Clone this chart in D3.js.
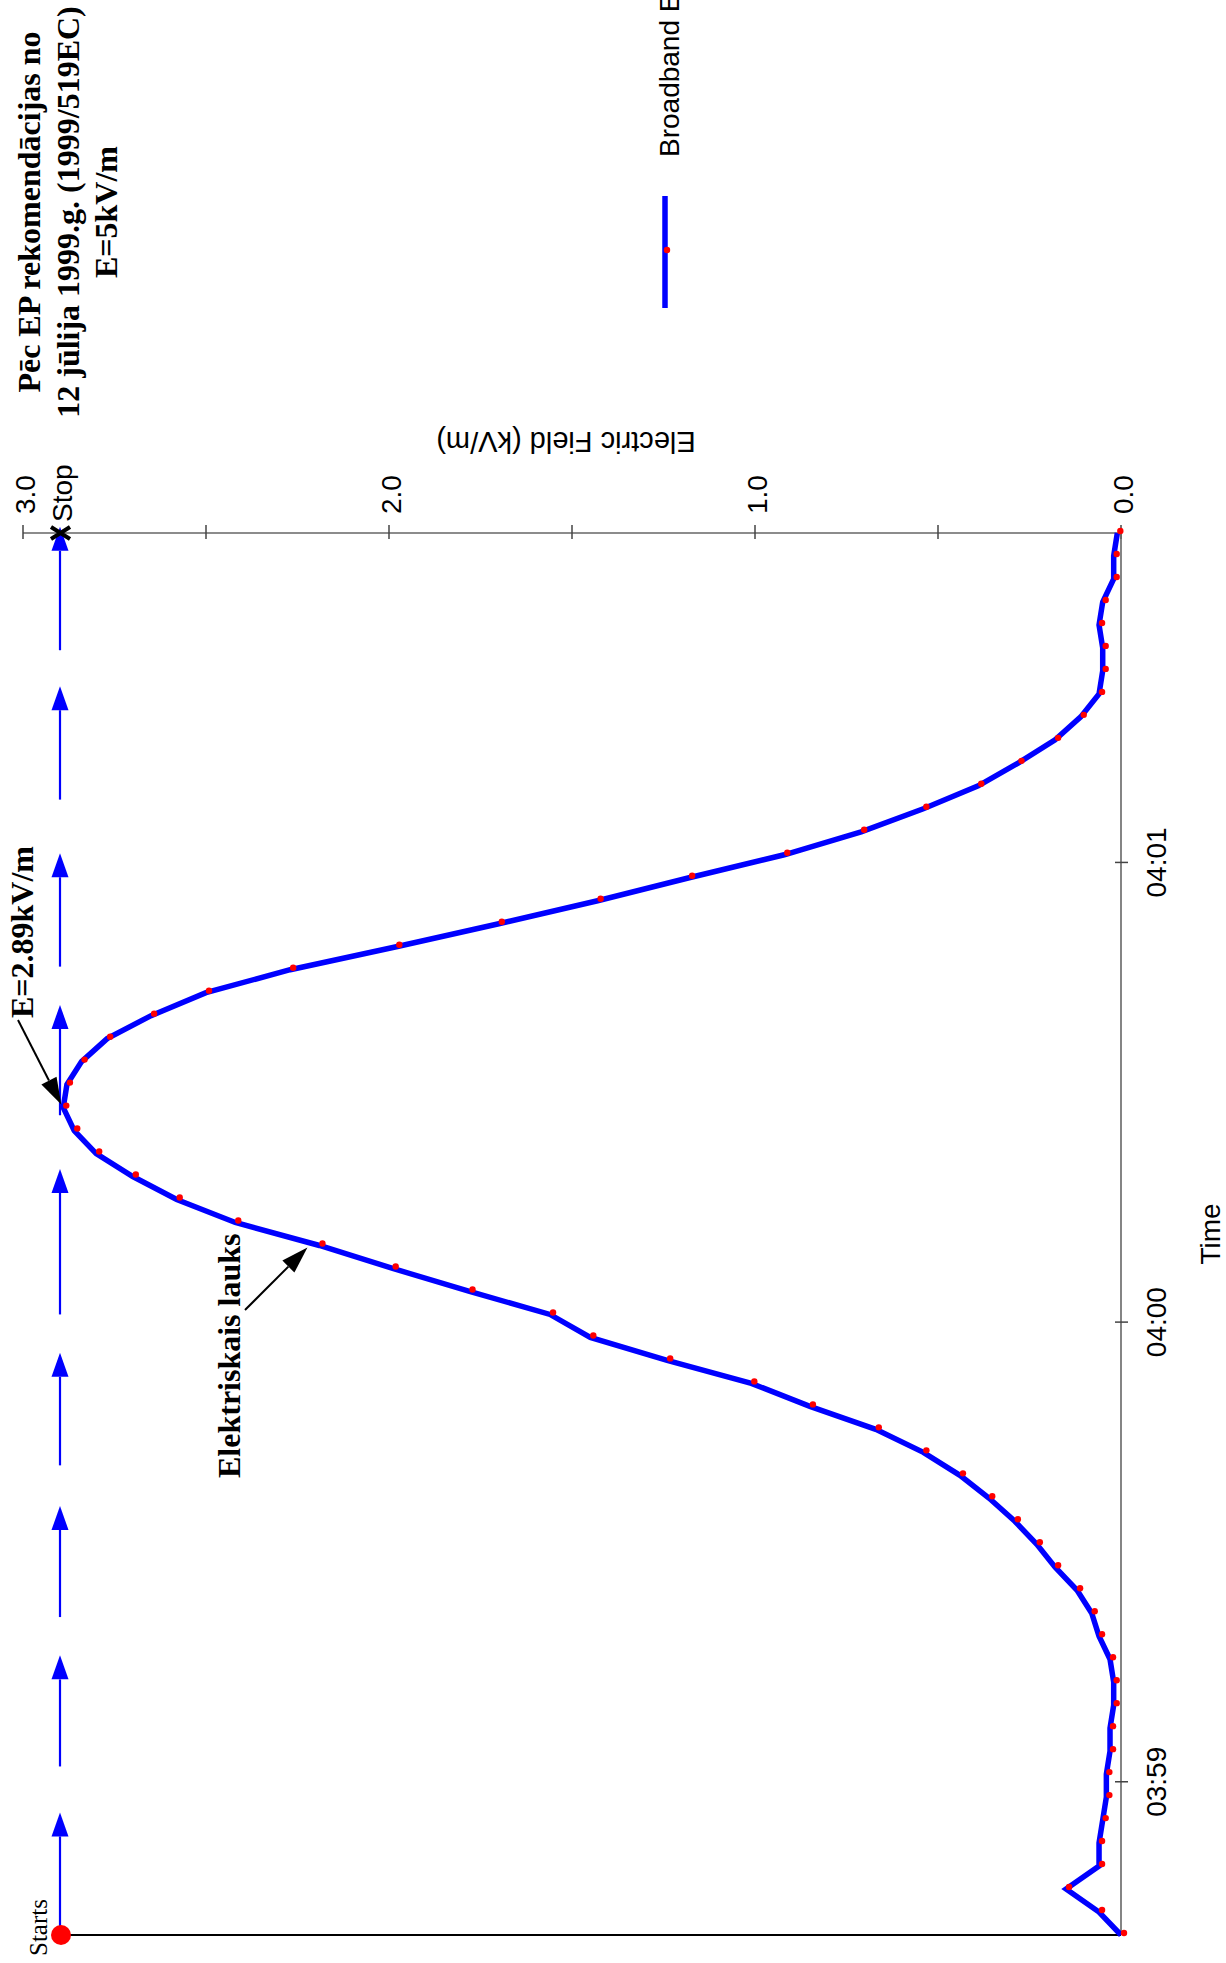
<!DOCTYPE html>
<html>
<head>
<meta charset="utf-8">
<script src="https://cdn.jsdelivr.net/npm/d3@7/dist/d3.min.js"></script>
<style>
  body { margin: 0; background: #fff; }
  svg { display: block; }
</style>
</head>
<body>
<div id="chart"></div>
<script>
// sample times (every 3 s) and field strength in kV/m
var times = [
  "03:58:40","03:58:43","03:58:46","03:58:49","03:58:52","03:58:55","03:58:58",
  "03:59:01","03:59:04","03:59:07","03:59:10","03:59:13","03:59:16","03:59:19",
  "03:59:22","03:59:25","03:59:28","03:59:31","03:59:34","03:59:37","03:59:40",
  "03:59:43","03:59:46","03:59:49","03:59:52","03:59:55","03:59:58","04:00:01",
  "04:00:04","04:00:07","04:00:10","04:00:13","04:00:16","04:00:19","04:00:22",
  "04:00:25","04:00:28","04:00:31","04:00:34","04:00:37","04:00:40","04:00:43",
  "04:00:46","04:00:49","04:00:52","04:00:55","04:00:58","04:01:01","04:01:04",
  "04:01:07","04:01:10","04:01:13","04:01:16","04:01:19","04:01:22","04:01:25",
  "04:01:28","04:01:31","04:01:34","04:01:37","04:01:40","04:01:43"
]
var field = [
  0.00, 0.06, 0.15, 0.06, 0.06, 0.05, 0.04,
  0.04, 0.03, 0.03, 0.02, 0.02, 0.03, 0.06,
  0.08, 0.12, 0.18, 0.23, 0.29, 0.36, 0.44,
  0.54, 0.67, 0.85, 1.01, 1.24, 1.45, 1.56,
  1.78, 1.99, 2.19, 2.42, 2.58, 2.70, 2.80,
  2.86, 2.89, 2.88, 2.84, 2.77, 2.65, 2.50,
  2.27, 1.98, 1.70, 1.43, 1.18, 0.92, 0.71,
  0.54, 0.39, 0.28, 0.18, 0.11, 0.06, 0.05,
  0.05, 0.06, 0.05, 0.02, 0.02, 0.01
]

var valueTicks = [0, 0.5, 1.0, 1.5, 2.0, 2.5, 3.0]
var valueLabels = [0, 1.0, 2.0, 3.0]
var timeTicks = ["03:59", "04:00", "04:01"]

// route direction arrows along the track: [from, to]
var routeFrom = ["03:58:40","03:59:02","03:59:21.5","03:59:41.3","04:00:01","04:00:27","04:00:46.4","04:01:08.2","04:01:27.7"]
var routeTo   = ["03:58:56","03:59:16.5","03:59:36","03:59:56","04:00:20","04:00:41.4","04:01:01.2","04:01:23","04:01:43.8"]

var titleLines = ["Pēc EP rekomendācijas no", "12 jūlija 1999.g. (1999/519EC)", "E=5kV/m"]

var sans = "'Liberation Sans', Arial, sans-serif"
var serif = "'Liberation Serif', 'Times New Roman', serif"

function toSec(s){
  var p = s.split(":")
  return (+p[0]) * 3600 + (+p[1]) * 60 + (p.length > 2 ? +p[2] : 0) - (3 * 3600 + 58 * 60)
}

var data = times.map(function(t, i){ return {t: toSec(t), v: field[i]} })

var W = 1226, H = 1963
var svg = d3.select("#chart").append("svg")
  .attr("width", W).attr("height", H)

// chart is turned on its side: value runs right->left, time runs bottom->top
var x = d3.scaleLinear().domain([0, 3]).range([1121, 23])
var y = d3.scaleLinear().domain([toSec("03:58:40"), toSec("04:01:43")]).range([1935, 533])

// value axis along top
svg.append("line")
  .attr("x1", x(3)).attr("x2", x(0)).attr("y1", y.range()[1]).attr("y2", y.range()[1])
  .attr("stroke", "#666").attr("stroke-width", 1.6)
svg.append("g").selectAll("line").data(valueTicks).enter().append("line")
  .attr("x1", function(d){ return x(d) }).attr("x2", function(d){ return x(d) })
  .attr("y1", 525).attr("y2", 539)
  .attr("stroke", "#444").attr("stroke-width", 1.5)
svg.append("g").selectAll("text").data(valueLabels).enter().append("text")
  .attr("transform", function(d){ return "translate(" + (x(d) + 12) + ",514) rotate(-90)" })
  .attr("font-family", sans).attr("font-size", 28)
  .text(function(d){ return d3.format(".1f")(d) })

svg.append("text")
  .attr("transform", "translate(566,432) rotate(180)")
  .attr("text-anchor", "middle")
  .attr("font-family", sans).attr("font-size", 29)
  .text("Electric Field (kV/m)")

// time axis along right
svg.append("line")
  .attr("x1", x(0)).attr("x2", x(0)).attr("y1", y.range()[1]).attr("y2", y.range()[0])
  .attr("stroke", "#666").attr("stroke-width", 1.6)
svg.append("g").selectAll("line").data(timeTicks).enter().append("line")
  .attr("x1", x(0) - 6).attr("x2", x(0) + 7)
  .attr("y1", function(d){ return y(toSec(d)) }).attr("y2", function(d){ return y(toSec(d)) })
  .attr("stroke", "#444").attr("stroke-width", 1.5)
svg.append("g").selectAll("text").data(timeTicks).enter().append("text")
  .attr("transform", function(d){ return "translate(1166," + y(toSec(d)) + ") rotate(-90)" })
  .attr("text-anchor", "middle")
  .attr("font-family", sans).attr("font-size", 28)
  .text(function(d){ return d })
svg.append("text")
  .attr("transform", "translate(1220," + ((y.range()[0] + y.range()[1]) / 2) + ") rotate(-90)")
  .attr("text-anchor", "middle")
  .attr("font-family", sans).attr("font-size", 28)
  .text("Time")

// base line at start
var routeX = 60
svg.append("line")
  .attr("x1", routeX).attr("x2", x(0)).attr("y1", y.range()[0]).attr("y2", y.range()[0])
  .attr("stroke", "#000").attr("stroke-width", 2)

function arrow(g, x1, y1, x2, y2, color, sw, hl, hw){
  var dx = x2 - x1, dy = y2 - y1, len = Math.sqrt(dx*dx + dy*dy)
  var ux = dx / len, uy = dy / len
  var bx = x2 - ux * hl, by = y2 - uy * hl
  g.append("line").attr("x1", x1).attr("y1", y1).attr("x2", bx).attr("y2", by)
    .attr("stroke", color).attr("stroke-width", sw)
  g.append("path")
    .attr("d", "M" + x2 + "," + y2 + "L" + (bx - uy * hw / 2) + "," + (by + ux * hw / 2) +
               "L" + (bx + uy * hw / 2) + "," + (by - ux * hw / 2) + "Z")
    .attr("fill", color)
}

// route arrows
var routeG = svg.append("g")
routeFrom.forEach(function(f, i){
  arrow(routeG, routeX, y(toSec(f)), routeX, y(toSec(routeTo[i])), "#0000ff", 2.2, 24, 17)
})

// start and stop marks
svg.append("circle").attr("cx", routeX + 1).attr("cy", y.range()[0]).attr("r", 10).attr("fill", "#ff0000")
svg.append("text")
  .attr("transform", "translate(47,1956) rotate(-90)")
  .attr("font-family", serif).attr("font-size", 25)
  .text("Starts")
svg.append("path")
  .attr("d", "M" + (routeX - 9) + "," + (y.range()[1] - 6) + "L" + (routeX + 10) + "," + (y.range()[1] + 6) +
             "M" + (routeX - 9) + "," + (y.range()[1] + 6) + "L" + (routeX + 10) + "," + (y.range()[1] - 6))
  .attr("stroke", "#000").attr("stroke-width", 4)
svg.append("text")
  .attr("transform", "translate(72,522) rotate(-90)")
  .attr("font-family", sans).attr("font-size", 28)
  .text("Stop")

// field curve
var line = d3.line()
  .x(function(d){ return x(d.v) })
  .y(function(d){ return y(d.t) })
svg.append("path").datum(data)
  .attr("d", line)
  .attr("fill", "none").attr("stroke", "#0000ff").attr("stroke-width", 5.5)
  .attr("stroke-linejoin", "miter")
svg.append("g").selectAll("circle").data(data).enter().append("circle")
  .attr("cx", function(d){ return x(d.v) + 3 })
  .attr("cy", function(d){ return y(d.t) - 2 })
  .attr("r", 3.2).attr("fill", "#ff0000")

// annotations
var annG = svg.append("g")
var peak = data[36]
arrow(annG, 18, 1020, x(peak.v) - 2, y(peak.t) - 3, "#000", 2, 27, 17)
annG.append("text")
  .attr("transform", "translate(33,1018) rotate(-90)")
  .attr("font-family", serif).attr("font-size", 32).attr("font-weight", "bold")
  .text("E=" + peak.v + "kV/m")

var lp = data[30]
arrow(annG, 245, 1310, x(lp.v) - 12, y(lp.t) + 2, "#000", 2, 27, 17)
annG.append("text")
  .attr("transform", "translate(240,1478) rotate(-90)")
  .attr("font-family", serif).attr("font-size", 32).attr("font-weight", "bold")
  .text("Elektriskais lauks")

// title
svg.append("g").selectAll("text").data(titleLines).enter().append("text")
  .attr("transform", function(d, i){ return "translate(" + [40, 79, 117][i] + ",212) rotate(-90)" })
  .attr("text-anchor", "middle")
  .attr("font-family", serif).attr("font-size", 32).attr("font-weight", "bold")
  .text(function(d){ return d })

// legend
svg.append("line")
  .attr("x1", 665).attr("x2", 665).attr("y1", 196).attr("y2", 308)
  .attr("stroke", "#0000ff").attr("stroke-width", 5.5)
svg.append("circle").attr("cx", 667).attr("cy", 250).attr("r", 3.2).attr("fill", "#ff0000")
svg.append("text")
  .attr("transform", "translate(679,157) rotate(-90)")
  .attr("font-family", sans).attr("font-size", 28)
  .text("Broadband E-Field")
</script>
</body>
</html>
